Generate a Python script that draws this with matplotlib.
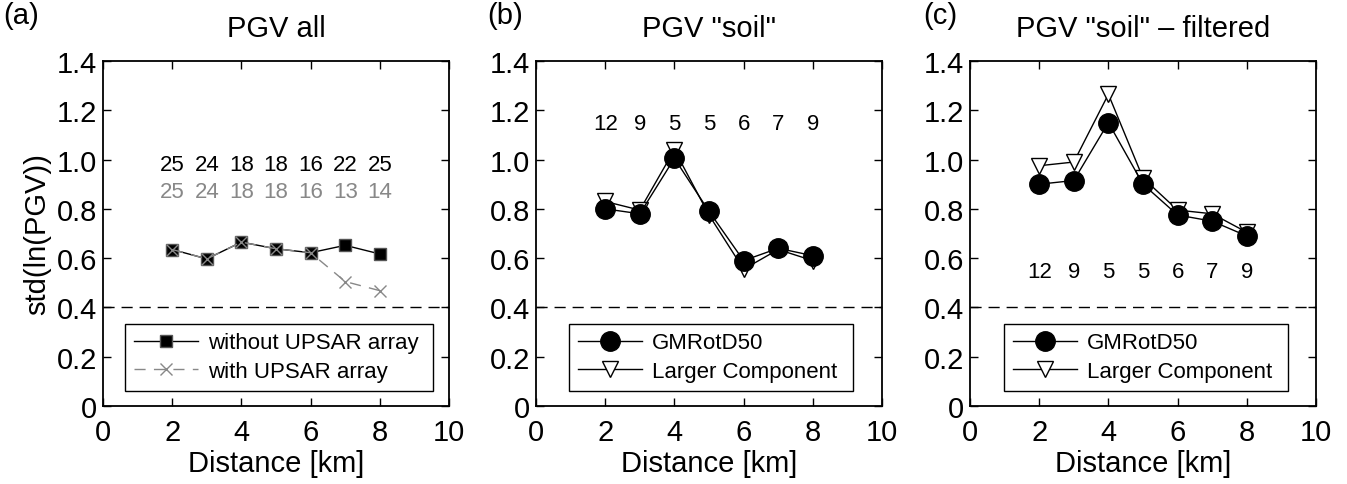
import matplotlib
matplotlib.use("Agg")
import matplotlib.pyplot as plt

plt.rcParams["font.family"] = ["Liberation Sans", "DejaVu Sans"]

distance = [2, 3, 4, 5, 6, 7, 8]

# panel (a): all stations
pgv_without_upsar = [0.635, 0.597, 0.665, 0.638, 0.622, 0.652, 0.617]
pgv_with_upsar = [0.635, 0.597, 0.665, 0.638, 0.622, 0.505, 0.468]
count_without_upsar = [25, 24, 18, 18, 16, 22, 25]
count_with_upsar = [25, 24, 18, 18, 16, 13, 14]

# panel (b): soil stations
soil_gmrotd50 = [0.800, 0.780, 1.005, 0.790, 0.590, 0.640, 0.610]
soil_larger = [0.830, 0.795, 1.040, 0.775, 0.555, 0.635, 0.590]
soil_counts = [12, 9, 5, 5, 6, 7, 9]

# panel (c): soil stations, filtered
filt_gmrotd50 = [0.900, 0.915, 1.150, 0.900, 0.775, 0.750, 0.690]
filt_larger = [0.975, 0.990, 1.265, 0.925, 0.795, 0.780, 0.705]
filt_counts = [12, 9, 5, 5, 6, 7, 9]

reference_sigma = 0.4

FS = 21
fig = plt.figure(figsize=(13.47, 4.85), dpi=100)
lefts = [103 / 1347, 536 / 1347, 970 / 1347]
axes = [fig.add_axes([l, 78 / 485, 346 / 1347, 345 / 485]) for l in lefts]


def style_axes(ax, title):
    ax.set_xlim(0, 10)
    ax.set_ylim(0, 1.4)
    ax.set_xticks([0, 2, 4, 6, 8, 10])
    ax.set_yticks([0, 0.2, 0.4, 0.6, 0.8, 1.0, 1.2, 1.4])
    ax.set_yticklabels(["0", "0.2", "0.4", "0.6", "0.8", "1.0", "1.2", "1.4"])
    ax.tick_params(direction="in", top=True, right=True, length=6, width=1.0,
                   labelsize=FS)
    ax.tick_params(axis="x", pad=9)
    ax.tick_params(axis="y", pad=4)
    for sp in ax.spines.values():
        sp.set_linewidth(1.3)
    ax.axhline(reference_sigma, color="black", linewidth=1.0, dashes=(8, 5))
    ax.set_xlabel("Distance [km]", fontsize=FS, labelpad=2)
    ax.text(0.5, 1.072, title, transform=ax.transAxes, ha="center",
            va="baseline", fontsize=FS)


def add_legend(ax, x0, width):
    leg = ax.legend(loc="lower left", bbox_to_anchor=(x0, 0.043, width, 0.2),
                    mode="expand", borderaxespad=0, fontsize=16, handlelength=2.9,
                    fancybox=False, edgecolor="black", framealpha=1,
                    borderpad=0.4, labelspacing=0.35, handletextpad=0.45)
    leg.get_frame().set_linewidth(1.0)


# (a)
ax = axes[0]
style_axes(ax, "PGV all")
ax.plot(distance, pgv_without_upsar, color="black", linewidth=1.0, marker="s",
        markersize=9, markerfacecolor="black", markeredgecolor="#555555",
        label="without UPSAR array", zorder=3)
ax.plot(distance, pgv_with_upsar, color="#888888", linewidth=1.0, dashes=(8, 6),
        marker="x", markersize=8, markeredgewidth=1.0, label="with UPSAR array",
        zorder=4)
for x, n1, n2 in zip(distance, count_without_upsar, count_with_upsar):
    ax.text(x, 0.98, str(n1), ha="center", va="center", fontsize=16, color="black")
    ax.text(x, 0.87, str(n2), ha="center", va="center", fontsize=16, color="#888888")
ax.set_ylabel("std(ln(PGV))", fontsize=FS, labelpad=4)
add_legend(ax, 0.064, 0.89)

# (b) and (c)
for ax, title, gm, lc, counts, cy, x0 in [
    (axes[1], 'PGV "soil"', soil_gmrotd50, soil_larger, soil_counts, 1.145, 0.095),
    (axes[2], 'PGV "soil" \u2013 filtered', filt_gmrotd50, filt_larger, filt_counts, 0.545, 0.098),
]:
    style_axes(ax, title)
    ax.plot(distance, gm, color="black", linewidth=1.0, marker="o", markersize=14,
            markerfacecolor="black", markeredgecolor="black", label="GMRotD50",
            zorder=4)
    ax.plot(distance, lc, color="black", linewidth=1.0, marker="v", markersize=12,
            markerfacecolor="white", markeredgecolor="black", markeredgewidth=1.0,
            label="Larger Component", zorder=3)
    for x, n in zip(distance, counts):
        ax.text(x, cy, str(n), ha="center", va="center", fontsize=16)
    add_legend(ax, x0, 0.82)

for label, xp in [("(a)", 3), ("(b)", 487), ("(c)", 923)]:
    fig.text(xp / 1347, 1 - 2 / 485, label, ha="left", va="top", fontsize=FS)

fig.savefig("out.png", dpi=100)
